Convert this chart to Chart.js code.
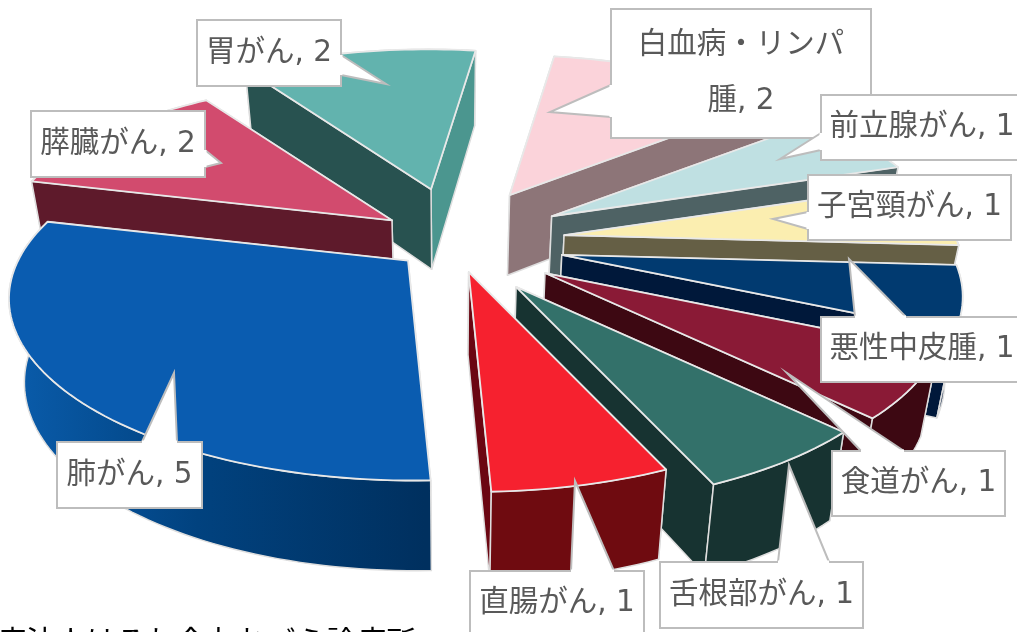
<!DOCTYPE html>
<html lang="ja">
<head>
<meta charset="utf-8">
<title>がん種別内訳</title>
<script src="https://cdn.jsdelivr.net/npm/chart.js@4"></script>
<style>
  html, body { margin: 0; padding: 0; background: #fff; overflow: hidden; }
  #chart-wrap { width: 1017px; height: 632px; }
</style>
</head>
<body>
<div id="chart-wrap"><canvas id="cancerPie" width="1017" height="632"></canvas></div>
<script>
  // Case counts by cancer type
  const categories = ['肺がん', '膵臓がん', '胃がん', '白血病・リンパ腫', '前立腺がん', '子宮頸がん', '悪性中皮腫', '食道がん', '舌根部がん', '直腸がん'];
  const counts = [5, 2, 2, 2, 1, 1, 1, 1, 1, 1];
  const footerText = '療法人はるわ会丸おづら診療所';

  // Slice styling
  const topColors = ['#0a5cb0', '#d24b6e', '#62b3ae', '#fbd3da', '#bfe0e2', '#fbeeb0', '#013a70', '#8a1a36', '#33716a', '#f6212f'];
  const wallColors = ['#00356c', '#5e1a2b', '#285250', '#8d7578', '#4e6264', '#655f45', '#00183a', '#3d0812', '#173331', '#6f0b10'];
  const endWallColors = ['#00356c', '#5e1a2b', '#4b968f', '#8d7578', '#4e6264', '#655f45', '#00183a', '#3d0812', '#173331', '#6b0612'];
  const explode = [55, 70, 100, 100, 100, 100, 100, 100, 100, 57];

  // Tilt of the pie plane
  const tilt = { scaleX: 390, skewX: 4, scaleY: 171, persp: 0.222, explodeX: 110, explodeY: 54 };
  const edgeColor = '#dedede';

  // Label boxes: rectangle, wedge tip, and the two wedge base points on the box edge
  const callouts = [
    { box: [57, 442, 145, 66], tip: [174, 373], base: [[142, 442], [177, 442]] },
    { box: [31, 111, 174, 66], tip: [221, 163], base: [[205, 150], [205, 167]] },
    { box: [197, 20, 144, 66], tip: [386, 84], base: [[341, 55], [341, 75]] },
    { box: [611, 9, 260, 129], tip: [550, 112], base: [[611, 85], [611, 117]], wrap: 7 },
    { box: [821, 95, 210, 65], tip: [780, 159], base: [[821, 133], [821, 150]], textX: 922 },
    { box: [808, 175, 203, 65], tip: [773, 219], base: [[808, 212], [808, 229]] },
    { box: [821, 317, 210, 65], tip: [849, 259], base: [[855, 317], [906, 317]], textX: 922 },
    { box: [832, 451, 173, 65], tip: [787, 373], base: [[861, 451], [904, 451]] },
    { box: [660, 562, 203, 66], tip: [789, 465], base: [[778, 562], [829, 562]] },
    { box: [470, 571, 174, 66], tip: [575, 481], base: [[571, 571], [614, 571]], textY: 603 }
  ];

  const labelFont = "29.5px 'DejaVu Sans', 'Noto Sans CJK JP', sans-serif";

  function polygon(ctx, pts) {
    ctx.beginPath();
    pts.forEach((p, i) => (i ? ctx.lineTo(p[0], p[1]) : ctx.moveTo(p[0], p[1])));
    ctx.closePath();
  }

  // Pie plane to page, measured from the slice's own apex
  function projectRim(angle) {
    const u = Math.cos(angle);
    const v = -Math.sin(angle);
    const w = 1 + tilt.persp * v;
    return [(tilt.scaleX * u - tilt.skewX * v) / w, -tilt.scaleY * v / w];
  }

  // Bottom face sits lower and pulls in slightly towards the middle
  function dropPoint(p) {
    return [p[0] + (450 - p[0]) * 0.035, p[1] + 80 + (p[1] - 190) * 0.035];
  }

  const tiltedPie = {
    id: 'tiltedPie',
    beforeDatasetsDraw(chart) {
      const ctx = chart.ctx;
      const arcs = chart.getDatasetMeta(0).data;
      const slices = arcs.map((arc, i) => {
        const p = arc.getProps(['x', 'y', 'startAngle', 'endAngle']);
        const mid = (p.startAngle + p.endAngle) / 2;
        const s = arc.options.offset / 100;
        const apex = [
          p.x + Math.cos(mid) * tilt.explodeX * s,
          p.y + Math.sin(mid) * tilt.explodeY * s
        ];
        const rim = [];
        const steps = Math.max(8, Math.ceil((p.endAngle - p.startAngle) * 40));
        for (let k = 0; k <= steps; k++) {
          const q = projectRim(p.startAngle + (p.endAngle - p.startAngle) * k / steps);
          rim.push([apex[0] + q[0], apex[1] + q[1]]);
        }
        return { i, mid, apex, rim };
      });

      // Far slices first so the near ones cover their walls
      slices.sort((a, b) => Math.sin(a.mid) - Math.sin(b.mid));

      ctx.save();
      ctx.lineJoin = 'round';
      slices.forEach((sl) => {
        const { i, apex, rim } = sl;
        const first = rim[0];
        const last = rim[rim.length - 1];
        const outer = rim.concat(rim.slice().reverse().map(dropPoint));
        const faces = [
          { pts: [apex, first, dropPoint(first), dropPoint(apex)], fill: wallColors[i] },
          { pts: [apex, last, dropPoint(last), dropPoint(apex)], fill: endWallColors[i] },
          { pts: outer, fill: wallColors[i], outer: true }
        ];
        const meanY = (f) => f.pts.reduce((t, p) => t + p[1], 0) / f.pts.length;
        faces.sort((a, b) => meanY(a) - meanY(b));
        faces.forEach((f) => {
          polygon(ctx, f.pts);
          ctx.fillStyle = f.fill;
          if (f.outer && i === 0) {
            const g = ctx.createLinearGradient(12, 0, 424, 0);
            g.addColorStop(0, '#0a5cab');
            g.addColorStop(0.45, '#01427f');
            g.addColorStop(1, '#00305f');
            ctx.fillStyle = g;
          }
          ctx.fill();
          ctx.strokeStyle = edgeColor;
          ctx.lineWidth = 1.5;
          ctx.stroke();
        });
        polygon(ctx, [apex].concat(rim));
        ctx.fillStyle = topColors[i];
        ctx.fill();
        ctx.strokeStyle = '#e8e8e8';
        ctx.lineWidth = 1.8;
        ctx.stroke();
      });
      ctx.restore();
      return false;
    },
    afterDraw(chart) {
      const ctx = chart.ctx;
      ctx.save();
      ctx.font = labelFont;
      ctx.textAlign = 'center';
      ctx.textBaseline = 'middle';
      callouts.forEach((c, i) => {
        const [x, y, w, h] = c.box;
        ctx.fillStyle = '#fff';
        ctx.strokeStyle = '#bdbdbd';
        ctx.lineWidth = 2;
        ctx.beginPath();
        ctx.rect(x, y, w, h);
        ctx.fill();
        ctx.stroke();
        polygon(ctx, [c.base[0], c.tip, c.base[1]]);
        ctx.fill();
        ctx.beginPath();
        ctx.moveTo(c.base[0][0], c.base[0][1]);
        ctx.lineTo(c.tip[0], c.tip[1]);
        ctx.lineTo(c.base[1][0], c.base[1][1]);
        ctx.stroke();
        // Cover the box border under the wedge opening
        ctx.strokeStyle = '#fff';
        ctx.lineWidth = 3;
        ctx.beginPath();
        ctx.moveTo(c.base[0][0], c.base[0][1]);
        ctx.lineTo(c.base[1][0], c.base[1][1]);
        ctx.stroke();

        ctx.fillStyle = '#595959';
        const label = categories[i] + ', ' + counts[i];
        const cx = c.textX || x + w / 2;
        const cy = c.textY || y + h / 2;
        if (c.wrap) {
          ctx.fillText(label.slice(0, c.wrap), cx, y + 36);
          ctx.fillText(label.slice(c.wrap), cx, y + 92);
        } else {
          ctx.fillText(label, cx, cy);
        }
      });
      ctx.fillStyle = '#000';
      ctx.textAlign = 'left';
      ctx.textBaseline = 'alphabetic';
      ctx.font = "30px 'Noto Sans CJK JP', sans-serif";
      ctx.fillText(footerText, -4, 652);
      ctx.restore();
    }
  };

  new Chart(document.getElementById('cancerPie').getContext('2d'), {
    type: 'pie',
    data: {
      labels: categories,
      datasets: [{
        data: counts,
        backgroundColor: topColors,
        offset: explode,
        borderWidth: 0
      }]
    },
    options: {
      responsive: false,
      animation: false,
      rotation: 178,
      layout: { padding: { left: 0, right: 107, top: 0, bottom: 148 } },
      plugins: { legend: { display: false }, tooltip: { enabled: false } }
    },
    plugins: [tiltedPie]
  });
</script>
</body>
</html>
